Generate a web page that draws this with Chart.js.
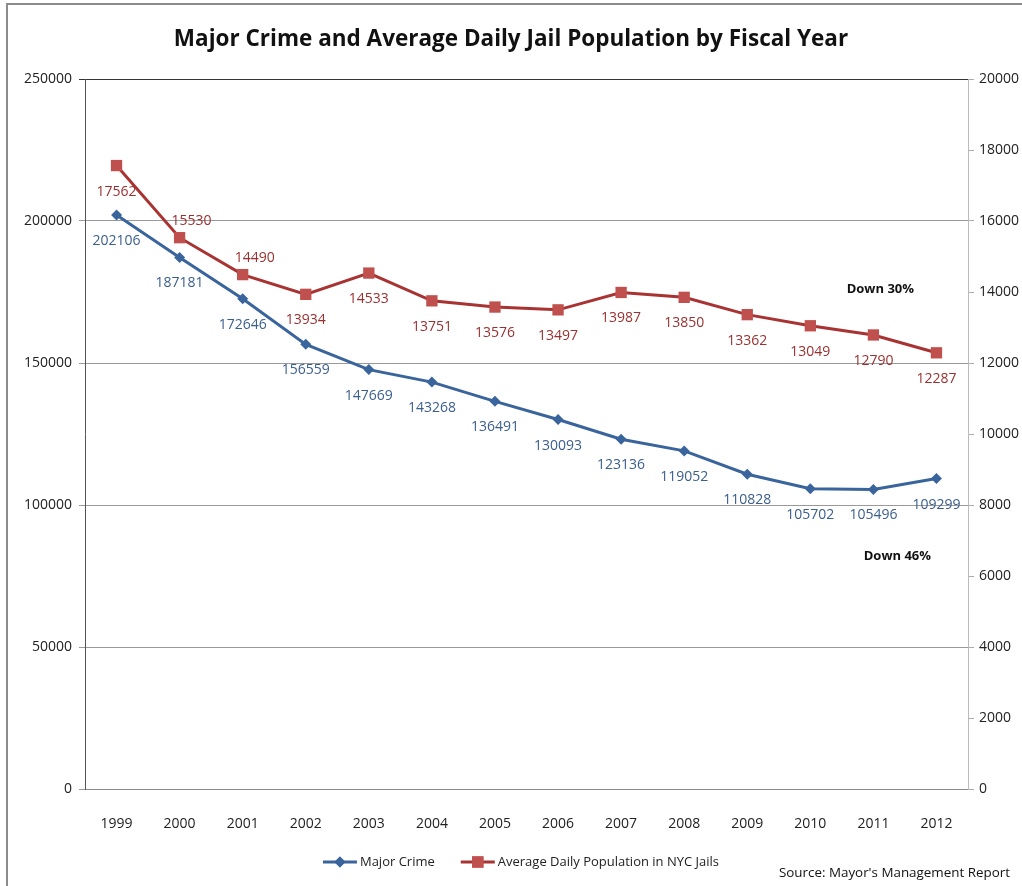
<!DOCTYPE html>
<html>
<head>
<meta charset="utf-8">
<title>Major Crime and Average Daily Jail Population by Fiscal Year</title>
<script src="https://cdn.jsdelivr.net/npm/chart.js@4.4.1/dist/chart.umd.min.js"></script>
<style>
  body { margin: 0; background: #fff; }
  canvas { display: block; }
</style>
</head>
<body>
<canvas id="crimeChart" width="1022" height="886"></canvas>
<script>
// data
var years = ['1999', '2000', '2001', '2002', '2003', '2004', '2005', '2006', '2007', '2008', '2009', '2010', '2011', '2012'];
var majorCrime = [202106, 187181, 172646, 156559, 147669, 143268, 136491, 130093, 123136, 119052, 110828, 105702, 105496, 109299];
var jailPop = [17562, 15530, 14490, 13934, 14533, 13751, 13576, 13497, 13987, 13850, 13362, 13049, 12790, 12287];
var crimeTicks = [0, 50000, 100000, 150000, 200000, 250000];
var jailTicks = [0, 2000, 4000, 6000, 8000, 10000, 12000, 14000, 16000, 18000, 20000];

var FONT = "'Open Sans', sans-serif";
var BLUE = '#3a649c';
Chart.defaults.font.family = FONT;
Chart.defaults.color = '#222';

/**
* frame lines round the picture, like the pasted chart
*/
var frame = {
  id: 'frame',
  beforeDraw: function(chart) {
    var ctx = chart.ctx;
    ctx.save();
    ctx.fillStyle = '#fff';
    ctx.fillRect(0, 0, chart.width, chart.height);
    ctx.strokeStyle = '#8c8c8c';
    ctx.lineWidth = 2;
    ctx.beginPath();
    ctx.moveTo(7, chart.height);
    ctx.lineTo(7, 4);
    ctx.lineTo(chart.width, 4);
    ctx.stroke();
    ctx.restore();
  }
};

// value labels next to every point
var valueLabels = {
  id: 'valueLabels',
  afterDatasetsDraw: function(chart) {
    var ctx = chart.ctx;
    ctx.save();
    ctx.font = '14px ' + FONT;
    ctx.textAlign = 'center';
    ctx.textBaseline = 'middle';
    chart.data.datasets.forEach(function(ds, di) {
      var meta = chart.getDatasetMeta(di);
      ctx.fillStyle = ds.labelColor;
      meta.data.forEach(function(pt, i) {
        var above = ds.labelAbove.indexOf(i) >= 0;
        ctx.fillText(String(ds.data[i]), pt.x + (above ? 12 : 0), pt.y + (above ? -17 : 26));
      });
    });
    ctx.restore();
  }
};

// "Down" notes, legend and source line
var extras = {
  id: 'extras',
  afterDraw: function(chart) {
    var ctx = chart.ctx;
    var x = chart.scales.x, yl = chart.scales.y, yr = chart.scales.y2;
    var step = x.getPixelForValue(13) - x.getPixelForValue(12);
    ctx.save();
    ctx.fillStyle = '#111';
    ctx.textBaseline = 'middle';
    ctx.textAlign = 'center';
    ctx.font = 'bold 13px ' + FONT;
    // between 2011 and 2012
    ctx.fillText('Down 30%', x.getPixelForValue(12) + 0.11 * step, yr.getPixelForValue(14085));
    ctx.fillText('Down 46%', x.getPixelForValue(12) + 0.38 * step, yl.getPixelForValue(82000));

    // legend
    ctx.font = '13px ' + FONT;
    ctx.textAlign = 'left';
    var items = chart.data.datasets;
    var lineW = 34, gap = 3, between = 26;
    var total = 0;
    items.forEach(function(ds, i) {
      total += lineW + gap + ctx.measureText(ds.label).width + (i ? between : 0);
    });
    var lx = 521 - total / 2, ly = 862;
    items.forEach(function(ds, i) {
      if (i) lx += between;
      ctx.strokeStyle = ds.borderColor;
      ctx.lineWidth = 3;
      ctx.beginPath();
      ctx.moveTo(lx, ly);
      ctx.lineTo(lx + lineW, ly);
      ctx.stroke();
      ctx.fillStyle = ds.pointBackgroundColor;
      Chart.helpers.drawPoint(ctx, {pointStyle: ds.pointStyle, radius: ds.pointRadius, borderWidth: 0, rotation: 0}, lx + lineW / 2, ly);
      ctx.fill();
      lx += lineW + gap;
      ctx.fillStyle = '#222';
      ctx.fillText(ds.label, lx, ly);
      lx += ctx.measureText(ds.label).width;
    });

    ctx.textAlign = 'right';
    ctx.fillStyle = '#111';
    ctx.font = '13.4px ' + FONT;
    ctx.fillText("Source: Mayor's Management Report", 1010, 873);
    ctx.restore();
  }
};

var ctx = document.getElementById('crimeChart');
var chart = new Chart(ctx, {
  type: 'line',
  data: {
    labels: years,
    datasets: [{
      label: 'Major Crime',
      data: majorCrime,
      yAxisID: 'y',
      borderColor: BLUE,
      backgroundColor: BLUE,
      pointBackgroundColor: BLUE,
      pointBorderColor: BLUE,
      pointStyle: 'rectRot',
      pointRadius: 5.5,
      pointBorderWidth: 0,
      borderWidth: 3,
      tension: 0,
      labelColor: '#3b5e8e',
      labelAbove: []
    },
    {
      label: 'Average Daily Population in NYC Jails',
      data: jailPop,
      yAxisID: 'y2',
      borderColor: '#a83332',
      backgroundColor: '#c0504d',
      pointBackgroundColor: '#c0504d',
      pointBorderColor: '#c0504d',
      pointStyle: 'rect',
      pointRadius: 8,
      pointBorderWidth: 0,
      borderWidth: 3,
      tension: 0,
      labelColor: '#9a3030',
      labelAbove: [1, 2]
    }]
  },
  options: {
    responsive: false,
    animation: false,
    layout: { padding: { left: 0, right: 0, top: 0, bottom: 0 } },
    plugins: {
      legend: { display: false },
      tooltip: { enabled: false },
      title: {
        display: true,
        text: 'Major Crime and Average Daily Jail Population by Fiscal Year',
        color: '#111',
        font: { size: 22.5, weight: 'bold', lineHeight: 1.2 },
        padding: { top: 26, bottom: 26 }
      }
    },
    scales: {
      x: {
        offset: true,
        grid: { display: false },
        border: { display: true, color: '#8a8a8a', width: 1 },
        ticks: { font: { size: 14 }, color: '#222', padding: 19, maxRotation: 0 },
        afterFit: function(scale) { scale.height = 97; }
      },
      y: {
        position: 'left',
        min: 0,
        max: 250000,
        afterBuildTicks: function(scale) {
          scale.ticks = crimeTicks.map(function(v) { return {value: v}; });
        },
        grid: {
          color: function(c) { return c.tick && c.tick.value === 250000 ? '#333' : '#9a9a9a'; },
          tickLength: 6
        },
        border: { color: '#555', width: 1 },
        ticks: {
          font: { size: 14 }, color: '#222', padding: 7,
          callback: function(v) { return String(v); }
        },
        afterFit: function(scale) { scale.width = 85; }
      },
      y2: {
        position: 'right',
        min: 0,
        max: 20000,
        afterBuildTicks: function(scale) {
          scale.ticks = jailTicks.map(function(v) { return {value: v}; });
        },
        grid: { drawOnChartArea: false, color: '#aaa', tickLength: 6 },
        border: { color: '#bbb', width: 1 },
        ticks: {
          font: { size: 14 }, color: '#222', padding: 5,
          callback: function(v) { return String(v); }
        },
        afterFit: function(scale) { scale.width = 54; }
      }
    }
  },
  plugins: [frame, valueLabels, extras]
});
</script>
</body>
</html>
